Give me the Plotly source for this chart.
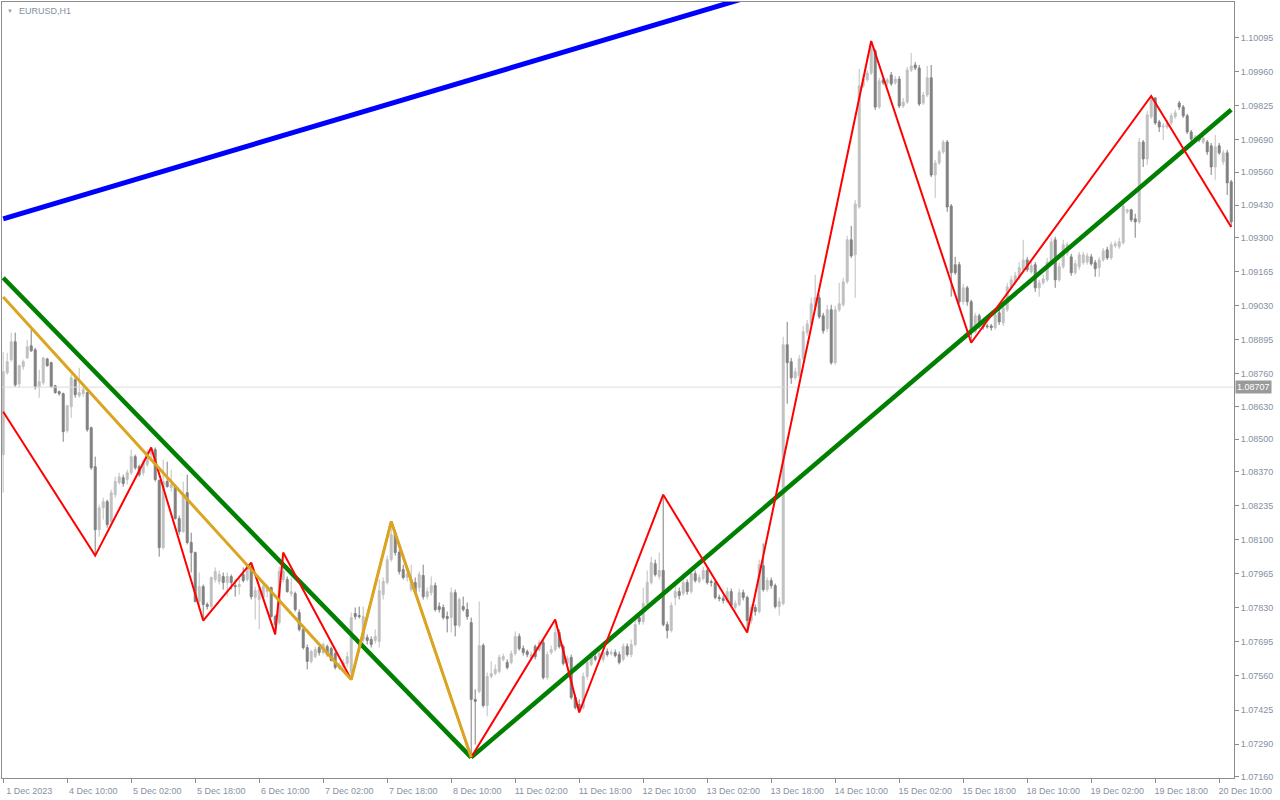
import plotly.graph_objects as go

# ---- data: EURUSD H1 candles (bar index 0 = 1 Dec 2023 18:00) ----
opens = [
1.08439,1.08764,1.08816,1.08887,1.08720,1.08788,1.08823,1.08871,1.08855,1.08708,
1.08724,1.08819,1.08804,1.08712,1.08689,1.08681,1.08534,1.08629,1.08736,1.08673,
1.08681,1.08685,1.08546,1.08391,1.08141,1.08228,1.08252,1.08173,1.08280,1.08328,
1.08347,1.08340,1.08367,1.08431,1.08391,1.08367,1.08399,1.08439,1.08459,1.08336,
1.08070,1.08332,1.08308,1.08312,1.08185,1.08133,1.08288,1.08090,1.08050,1.07856,
1.07915,1.07844,1.07836,1.07943,1.07935,1.07955,1.07931,1.07955,1.07919,1.07915,
1.07963,1.07943,1.07994,1.07872,1.07864,1.07872,1.07895,1.07911,1.07796,1.07772,
1.07943,1.07943,1.07887,1.07887,1.07812,1.07745,1.07673,1.07618,1.07637,1.07673,
1.07653,1.07677,1.07669,1.07649,1.07590,1.07598,1.07610,1.07574,1.07808,1.07800,
1.07705,1.07713,1.07705,1.07701,1.07697,1.07883,1.07931,1.08022,1.08129,1.08050,
1.07983,1.07951,1.07903,1.07931,1.07911,1.07959,1.07875,1.07891,1.07919,1.07836,
1.07832,1.07796,1.07792,1.07891,1.07761,1.07836,1.07824,1.07772,1.07467,1.07499,
1.07681,1.07443,1.07558,1.07570,1.07578,1.07626,1.07614,1.07614,1.07649,1.07717,
1.07669,1.07657,1.07630,1.07677,1.07665,1.07693,1.07554,1.07653,1.07665,1.07733,
1.07677,1.07610,1.07634,1.07475,1.07447,1.07435,1.07558,1.07606,1.07637,1.07637,
1.07626,1.07657,1.07649,1.07653,1.07645,1.07626,1.07677,1.07645,1.07685,1.07792,
1.07776,1.07848,1.07931,1.08006,1.07955,1.07979,1.07764,1.07741,1.07872,1.07895,
1.07887,1.07931,1.07895,1.07967,1.07935,1.07947,1.07979,1.07935,1.07931,1.07872,
1.07868,1.07856,1.07895,1.07832,1.07844,1.07891,1.07872,1.07780,1.07832,1.07816,
1.07998,1.07903,1.07939,1.07919,1.07836,1.07848,1.08875,1.08808,1.08744,1.08752,
1.08819,1.08923,1.08958,1.09026,1.09062,1.08990,1.08939,1.09014,1.08804,1.09014,
1.09034,1.09125,1.09292,1.09232,1.09422,1.09903,1.09927,1.09954,1.10042,1.09819,
1.09927,1.09915,1.09946,1.09915,1.09930,1.09823,1.09839,1.09966,1.09986,1.09974,
1.09835,1.09867,1.09935,1.09549,1.09597,1.09641,1.09680,1.09426,1.09193,1.09193,
1.09046,1.09101,1.09046,1.08927,1.08990,1.08950,1.08950,1.08950,1.08943,1.09002,
1.08962,1.09014,1.09101,1.09121,1.09145,1.09173,1.09212,1.09165,1.09193,1.09101,
1.09121,1.09133,1.09204,1.09292,1.09133,1.09185,1.09240,1.09224,1.09161,1.09185,
1.09201,1.09204,1.09224,1.09201,1.09181,1.09212,1.09252,1.09220,1.09268,1.09264,
1.09280,1.09403,1.09411,1.09375,1.09363,1.09680,1.09613,1.09780,1.09855,1.09760,
1.09740,1.09740,1.09756,1.09780,1.09835,1.09819,1.09784,1.09720,1.09692,1.09700,
1.09680,1.09680,1.09665,1.09581,1.09665,1.09601,1.09637,1.09522]

highs = [
1.08847,1.08843,1.08923,1.08923,1.08796,1.08816,1.08895,1.08935,1.08863,1.08776,
1.08827,1.08823,1.08808,1.08716,1.08693,1.08685,1.08637,1.08756,1.08748,1.08784,
1.08716,1.08689,1.08550,1.08431,1.08240,1.08268,1.08260,1.08300,1.08351,1.08367,
1.08359,1.08379,1.08459,1.08439,1.08399,1.08419,1.08459,1.08467,1.08467,1.08340,
1.08419,1.08411,1.08379,1.08320,1.08197,1.08332,1.08359,1.08129,1.08054,1.07971,
1.07923,1.07852,1.07955,1.07991,1.07979,1.07971,1.07971,1.07963,1.07943,1.07951,
1.07991,1.08002,1.08010,1.07915,1.07915,1.07931,1.07923,1.07915,1.07804,1.07994,
1.08050,1.07955,1.07951,1.07895,1.07824,1.07753,1.07685,1.07665,1.07677,1.07681,
1.07693,1.07685,1.07677,1.07657,1.07614,1.07626,1.07657,1.07812,1.07832,1.07836,
1.07836,1.07725,1.07717,1.07745,1.07943,1.07951,1.08038,1.08173,1.08141,1.08062,
1.08002,1.07991,1.08002,1.07951,1.07975,1.08002,1.07911,1.07955,1.07931,1.07852,
1.07844,1.07816,1.07911,1.07903,1.07872,1.07875,1.07852,1.07792,1.07507,1.07856,
1.07689,1.07574,1.07618,1.07606,1.07645,1.07649,1.07626,1.07661,1.07737,1.07729,
1.07681,1.07665,1.07657,1.07685,1.07705,1.07705,1.07657,1.07681,1.07784,1.07745,
1.07685,1.07641,1.07645,1.07487,1.07467,1.07574,1.07626,1.07657,1.07649,1.07665,
1.07665,1.07669,1.07665,1.07665,1.07657,1.07689,1.07689,1.07705,1.07784,1.07808,
1.07911,1.07979,1.08034,1.08022,1.08050,1.08280,1.07776,1.07852,1.07923,1.07911,
1.07951,1.07943,1.07983,1.07979,1.07963,1.07994,1.07991,1.07943,1.07943,1.07883,
1.07879,1.07911,1.07907,1.07860,1.07907,1.07903,1.07879,1.07844,1.07844,1.08022,
1.08086,1.07951,1.07951,1.07927,1.07872,1.08907,1.08966,1.08823,1.08784,1.08835,
1.08950,1.08974,1.09062,1.09153,1.09074,1.09002,1.09034,1.09034,1.09030,1.09121,
1.09141,1.09308,1.09347,1.09450,1.09970,1.09946,1.09966,1.10081,1.10049,1.09935,
1.09939,1.09935,1.09958,1.09942,1.09942,1.09855,1.09978,1.10034,1.09998,1.09986,
1.09879,1.09982,1.09986,1.09609,1.09649,1.09688,1.09688,1.09434,1.09224,1.09204,
1.09117,1.09109,1.09054,1.09002,1.08998,1.08962,1.08958,1.08958,1.09006,1.09014,
1.09034,1.09121,1.09149,1.09165,1.09204,1.09292,1.09224,1.09204,1.09204,1.09133,
1.09153,1.09220,1.09300,1.09304,1.09201,1.09292,1.09284,1.09236,1.09212,1.09244,
1.09244,1.09240,1.09236,1.09212,1.09224,1.09260,1.09264,1.09284,1.09288,1.09300,
1.09434,1.09415,1.09415,1.09395,1.09696,1.09688,1.09804,1.09863,1.09859,1.09768,
1.09756,1.09768,1.09796,1.09808,1.09843,1.09827,1.09792,1.09728,1.09708,1.09708,
1.09704,1.09688,1.09676,1.09708,1.09676,1.09649,1.09649,1.09530]

lows = [
1.08288,1.08756,1.08808,1.08708,1.08704,1.08776,1.08819,1.08847,1.08697,1.08665,
1.08716,1.08788,1.08704,1.08681,1.08673,1.08490,1.08526,1.08585,1.08665,1.08665,
1.08669,1.08530,1.08379,1.08038,1.08113,1.08181,1.08149,1.08161,1.08268,1.08320,
1.08312,1.08320,1.08359,1.08379,1.08351,1.08355,1.08391,1.08427,1.08332,1.08034,
1.08062,1.08308,1.08292,1.08181,1.08121,1.08129,1.08082,1.07971,1.07852,1.07824,
1.07780,1.07824,1.07824,1.07931,1.07923,1.07903,1.07875,1.07903,1.07875,1.07883,
1.07931,1.07935,1.07864,1.07784,1.07745,1.07864,1.07872,1.07792,1.07725,1.07764,
1.07931,1.07891,1.07875,1.07816,1.07737,1.07665,1.07586,1.07610,1.07630,1.07641,
1.07645,1.07637,1.07618,1.07586,1.07582,1.07590,1.07594,1.07546,1.07784,1.07788,
1.07693,1.07685,1.07673,1.07689,1.07673,1.07864,1.07923,1.08014,1.08038,1.07963,
1.07943,1.07935,1.07895,1.07883,1.07895,1.07864,1.07864,1.07879,1.07816,1.07812,
1.07784,1.07733,1.07733,1.07717,1.07753,1.07816,1.07784,1.07237,1.07288,1.07491,
1.07435,1.07400,1.07550,1.07562,1.07570,1.07618,1.07586,1.07606,1.07641,1.07661,
1.07641,1.07634,1.07622,1.07626,1.07657,1.07546,1.07546,1.07645,1.07657,1.07669,
1.07602,1.07598,1.07467,1.07427,1.07415,1.07427,1.07546,1.07598,1.07618,1.07630,
1.07614,1.07637,1.07641,1.07634,1.07606,1.07618,1.07637,1.07634,1.07677,1.07764,
1.07764,1.07840,1.07923,1.07955,1.07943,1.07757,1.07709,1.07733,1.07840,1.07864,
1.07879,1.07883,1.07887,1.07931,1.07927,1.07939,1.07923,1.07915,1.07864,1.07856,
1.07848,1.07848,1.07832,1.07820,1.07836,1.07860,1.07733,1.07768,1.07800,1.07808,
1.07895,1.07895,1.07907,1.07828,1.07800,1.07840,1.08641,1.08720,1.08736,1.08744,
1.08812,1.08911,1.08950,1.09018,1.08978,1.08919,1.08927,1.08796,1.08796,1.09006,
1.09026,1.09117,1.09220,1.09062,1.09415,1.09895,1.09919,1.09946,1.09808,1.09812,
1.09907,1.09903,1.09903,1.09907,1.09815,1.09815,1.09831,1.09958,1.09966,1.09823,
1.09827,1.09859,1.09541,1.09458,1.09589,1.09633,1.09403,1.09066,1.09153,1.09038,
1.09034,1.09030,1.08883,1.08919,1.08939,1.08935,1.08939,1.08931,1.08935,1.08954,
1.08950,1.09006,1.09093,1.09113,1.09133,1.09165,1.09165,1.09157,1.09085,1.09066,
1.09113,1.09125,1.09197,1.09101,1.09125,1.09177,1.09228,1.09149,1.09153,1.09173,
1.09193,1.09193,1.09189,1.09145,1.09145,1.09204,1.09212,1.09212,1.09260,1.09256,
1.09272,1.09395,1.09363,1.09300,1.09355,1.09581,1.09589,1.09772,1.09748,1.09720,
1.09688,1.09732,1.09748,1.09772,1.09808,1.09776,1.09712,1.09684,1.09684,1.09680,
1.09672,1.09629,1.09549,1.09530,1.09629,1.09589,1.09470,1.09343]

closes = [
1.08768,1.08808,1.08887,1.08716,1.08792,1.08808,1.08867,1.08851,1.08708,1.08728,
1.08823,1.08792,1.08708,1.08685,1.08681,1.08530,1.08633,1.08744,1.08677,1.08685,
1.08697,1.08538,1.08387,1.08141,1.08228,1.08252,1.08161,1.08288,1.08332,1.08351,
1.08324,1.08367,1.08431,1.08387,1.08359,1.08407,1.08447,1.08459,1.08340,1.08070,
1.08332,1.08312,1.08320,1.08185,1.08133,1.08280,1.08090,1.08050,1.07856,1.07915,
1.07844,1.07836,1.07951,1.07975,1.07963,1.07931,1.07955,1.07931,1.07915,1.07923,
1.07939,1.08002,1.07875,1.07899,1.07903,1.07915,1.07915,1.07796,1.07764,1.07975,
1.07975,1.07895,1.07895,1.07824,1.07745,1.07673,1.07618,1.07657,1.07665,1.07653,
1.07685,1.07645,1.07622,1.07594,1.07602,1.07614,1.07637,1.07792,1.07796,1.07796,
1.07796,1.07701,1.07685,1.07717,1.07899,1.07935,1.08022,1.08121,1.08050,1.07975,
1.07951,1.07963,1.07943,1.07895,1.07963,1.07875,1.07895,1.07919,1.07824,1.07824,
1.07792,1.07788,1.07891,1.07761,1.07864,1.07824,1.07796,1.07467,1.07459,1.07681,
1.07443,1.07558,1.07570,1.07586,1.07634,1.07637,1.07594,1.07649,1.07717,1.07669,
1.07653,1.07645,1.07645,1.07637,1.07693,1.07554,1.07645,1.07665,1.07733,1.07677,
1.07610,1.07630,1.07475,1.07435,1.07431,1.07558,1.07614,1.07637,1.07626,1.07649,
1.07653,1.07645,1.07653,1.07641,1.07614,1.07677,1.07645,1.07685,1.07764,1.07776,
1.07848,1.07931,1.08010,1.07963,1.07979,1.07764,1.07741,1.07840,1.07895,1.07879,
1.07931,1.07895,1.07967,1.07939,1.07951,1.07979,1.07931,1.07931,1.07872,1.07868,
1.07860,1.07895,1.07840,1.07848,1.07891,1.07872,1.07780,1.07832,1.07816,1.08002,
1.07903,1.07939,1.07919,1.07836,1.07856,1.08875,1.08804,1.08744,1.08768,1.08819,
1.08927,1.08958,1.09038,1.09062,1.08986,1.08931,1.09014,1.08804,1.09014,1.09038,
1.09125,1.09292,1.09228,1.09434,1.09903,1.09930,1.09954,1.10050,1.09819,1.09923,
1.09915,1.09927,1.09911,1.09930,1.09823,1.09839,1.09966,1.09982,1.09974,1.09831,
1.09867,1.09935,1.09549,1.09597,1.09641,1.09680,1.09422,1.09161,1.09161,1.09046,
1.09101,1.09046,1.08927,1.08990,1.08947,1.08947,1.08947,1.08943,1.08994,1.08966,
1.09022,1.09105,1.09133,1.09149,1.09181,1.09212,1.09173,1.09189,1.09101,1.09121,
1.09137,1.09204,1.09284,1.09133,1.09185,1.09272,1.09272,1.09161,1.09197,1.09232,
1.09232,1.09228,1.09197,1.09177,1.09212,1.09248,1.09220,1.09272,1.09276,1.09284,
1.09426,1.09411,1.09371,1.09363,1.09680,1.09613,1.09788,1.09855,1.09756,1.09740,
1.09744,1.09756,1.09784,1.09796,1.09819,1.09784,1.09720,1.09692,1.09700,1.09688,
1.09696,1.09641,1.09581,1.09661,1.09637,1.09637,1.09518,1.09363]

bars = list(range(len(closes)))

# zigzag / trendline anchor points (bar index, price)
red_zz_bars = [0, 23, 37, 50, 62, 68, 70, 87, 97, 117, 138, 144, 165, 186, 217, 242, 287, 307]
red_zz_prices = [1.08609, 1.08038, 1.08467, 1.07780, 1.08010, 1.07725, 1.08050, 1.07546, 1.08173,
                 1.07237, 1.07784, 1.07415, 1.08280, 1.07733, 1.10081, 1.08883, 1.09863, 1.09343]
orange_zz_bars = [0, 87, 97, 117]
orange_zz_prices = [1.09065, 1.07546, 1.08173, 1.07237]
green_down_bars = [0, 117]
green_down_prices = [1.09141, 1.07237]
green_up_bars = [117, 307]
green_up_prices = [1.07237, 1.09808]
blue_bars = [0, 307]
blue_prices = [1.09375, 1.10826]

bid_price = 1.08707

# axis ticks
price_ticks = [1.07160, 1.07290, 1.07425, 1.07560, 1.07695, 1.07830, 1.07965, 1.08100, 1.08235,
               1.08370, 1.08500, 1.08630, 1.08760, 1.08895, 1.09030, 1.09165, 1.09300, 1.09430,
               1.09560, 1.09690, 1.09825, 1.09960, 1.10095]
price_tick_labels = ["1.07160", "1.07290", "1.07425", "1.07560", "1.07695", "1.07830", "1.07965",
                     "1.08100", "1.08235", "1.08370", "1.08500", "1.08630", "1.08760", "1.08895",
                     "1.09030", "1.09165", "1.09300", "1.09430", "1.09560", "1.09690", "1.09825",
                     "1.09960", "1.10095"]
time_tick_bars = list(range(0, 305, 16))
time_tick_labels = ["1 Dec 2023", "4 Dec 10:00", "5 Dec 02:00", "5 Dec 18:00", "6 Dec 10:00",
                    "7 Dec 02:00", "7 Dec 18:00", "8 Dec 10:00", "11 Dec 02:00", "11 Dec 18:00",
                    "12 Dec 10:00", "13 Dec 02:00", "13 Dec 18:00", "14 Dec 10:00", "15 Dec 02:00",
                    "15 Dec 18:00", "18 Dec 10:00", "19 Dec 02:00", "19 Dec 18:00", "20 Dec 10:00"]

TXT = "#8591a3"
FRAME = "#8c8c8c"
FONT = "Liberation Sans, Arial, sans-serif"

fig = go.Figure()

fig.add_trace(go.Candlestick(
    x=bars, open=opens, high=highs, low=lows, close=closes,
    increasing=dict(line=dict(color="#c0c0c0", width=1), fillcolor="#c0c0c0"),
    decreasing=dict(line=dict(color="#808080", width=1), fillcolor="#808080"),
    whiskerwidth=0, hoverinfo="skip", showlegend=False))

# bid line
fig.add_trace(go.Scatter(x=[-1, 309], y=[bid_price, bid_price], mode="lines",
                         line=dict(color="#dcdcdc", width=1), hoverinfo="skip", showlegend=False))

fig.add_trace(go.Scatter(x=green_down_bars, y=green_down_prices, mode="lines",
                         line=dict(color="#008000", width=4.5), hoverinfo="skip", showlegend=False))
fig.add_trace(go.Scatter(x=green_up_bars, y=green_up_prices, mode="lines",
                         line=dict(color="#008000", width=4.5), hoverinfo="skip", showlegend=False))
fig.add_trace(go.Scatter(x=red_zz_bars, y=red_zz_prices, mode="lines",
                         line=dict(color="#ff0000", width=2), hoverinfo="skip", showlegend=False))
fig.add_trace(go.Scatter(x=orange_zz_bars, y=orange_zz_prices, mode="lines",
                         line=dict(color="#daa520", width=3), hoverinfo="skip", showlegend=False))
fig.add_trace(go.Scatter(x=blue_bars, y=blue_prices, mode="lines",
                         line=dict(color="#0000ff", width=5), hoverinfo="skip", showlegend=False))

fig.update_layout(
    width=1280, height=800,
    margin=dict(l=2, r=46, t=2, b=22),
    paper_bgcolor="white", plot_bgcolor="white",
    font=dict(family=FONT, size=9, color=TXT),
    hovermode=False, showlegend=False,
    xaxis=dict(range=[-0.3, 307.7], rangeslider=dict(visible=False), showgrid=False,
               zeroline=False, showline=True, linecolor=FRAME, linewidth=1, mirror=True,
               tickmode="array", tickvals=time_tick_bars, ticktext=time_tick_labels,
               ticks="outside", ticklen=4, tickcolor=FRAME, ticklabelshift=26,
               tickfont=dict(family=FONT, size=9, color=TXT), fixedrange=True,
               automargin=False),
    yaxis=dict(range=[1.07155, 1.10236], side="right", showgrid=False, zeroline=False,
               showline=True, linecolor=FRAME, linewidth=1, mirror=True,
               tickmode="array", tickvals=price_ticks, ticktext=price_tick_labels,
               ticks="outside", ticklen=4, tickcolor=FRAME,
               tickfont=dict(family=FONT, size=9, color=TXT), fixedrange=True,
               automargin=False),
)

fig.add_annotation(xref="paper", yref="y", x=1, y=bid_price, xanchor="left", yanchor="middle",
                   xshift=1, text="1.08707", showarrow=False, bgcolor="#9a9a9a",
                   font=dict(family=FONT, size=9, color="white"), borderpad=1)
fig.add_annotation(xref="paper", yref="paper", x=0, y=1, xanchor="left", yanchor="top",
                   xshift=3, yshift=-4, text="▼", showarrow=False,
                   font=dict(family=FONT, size=6, color="#a0a0a0"))
fig.add_annotation(xref="paper", yref="paper", x=0, y=1, xanchor="left", yanchor="top",
                   xshift=15, yshift=-2, text="EURUSD,H1", showarrow=False,
                   font=dict(family=FONT, size=9, color=TXT))

fig.write_html("out.html", config={"displayModeBar": False},
               post_script="document.body.style.margin='0';document.body.style.overflow='hidden';")
